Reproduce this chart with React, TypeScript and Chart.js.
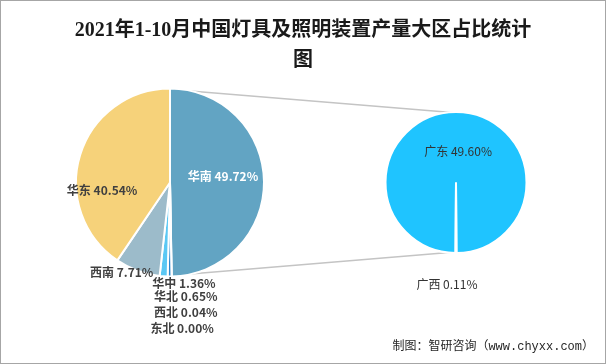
import React, { useEffect, useRef } from "react";
import { Chart, registerables } from "chart.js";

Chart.register(...registerables);

const titleLines = ["2021年1-10月中国灯具及照明装置产量大区占比统计", "图"];
const sourceText = "制图：智研咨询（www.chyxx.com）";

const regions = ["华南", "东北", "西北", "华北", "华中", "西南", "华东"];
const regionShares = [49.72, 0.0, 0.04, 0.65, 1.36, 7.71, 40.54];
const regionColors = ["#62A4C3", "#4AA8E0", "#3A98DA", "#2C86CC", "#5BC8F4", "#9CBBCA", "#F6D27A"];
// label anchor offsets, in units of the pie radius from its centre
const regionLabelPos = [
  [0.57, -0.06],
  [0.13, 1.565],
  [0.17, 1.4],
  [0.17, 1.23],
  [0.15, 1.08],
  [-0.52, 0.97],
  [-0.73, 0.08],
];
const regionLabelColors = ["#FFFFFF", "#404040", "#404040", "#404040", "#404040", "#404040", "#404040"];

const provinces = ["广东", "广西"];
const provinceShares = [49.6, 0.11];
const provinceColors = ["#1FC4FF", "#1FC4FF"];
const provinceLabelPos = [
  [0.03, -0.45],
  [-0.13, 1.47],
];

const W = 606;
const H = 364;

function drawLabels(chart: any, names: string[], values: number[], pos: number[][], colors: string[], font: string) {
  const arc: any = chart.getDatasetMeta(0).data[0];
  if (!arc) return;
  const r = arc.outerRadius - 1;
  const ctx = chart.ctx;
  ctx.save();
  ctx.font = font;
  ctx.textAlign = "center";
  ctx.textBaseline = "middle";
  names.forEach((n, i) => {
    ctx.fillStyle = colors[i];
    ctx.fillText(`${n} ${values[i].toFixed(2)}%`, arc.x + pos[i][0] * r, arc.y + pos[i][1] * r);
  });
  ctx.restore();
}

export default function App() {
  const refA = useRef<HTMLCanvasElement>(null);
  const refB = useRef<HTMLCanvasElement>(null);

  useEffect(() => {
    const chartA = new Chart(refA.current!, {
      type: "pie",
      data: {
        labels: regions,
        datasets: [
          {
            data: regionShares,
            backgroundColor: regionColors,
            borderColor: "#FFFFFF",
            borderWidth: 2,
          },
        ],
      },
      options: {
        responsive: false,
        devicePixelRatio: 1,
        animation: false,
        layout: { padding: { left: 75, right: 341, top: 87.5, bottom: 86.5 } },
        plugins: { legend: { display: false }, tooltip: { enabled: false }, title: { display: false } },
      },
      plugins: [
        {
          id: "labelsA",
          afterDatasetsDraw(chart: any) {
            drawLabels(chart, regions, regionShares, regionLabelPos, regionLabelColors, 'bold 12px "Noto Sans CJK SC"');
          },
        },
      ],
    });

    const chartB = new Chart(refB.current!, {
      type: "pie",
      data: {
        labels: provinces,
        datasets: [
          {
            data: provinceShares,
            backgroundColor: provinceColors,
            borderColor: "#FFFFFF",
            borderWidth: 2,
          },
        ],
      },
      options: {
        responsive: false,
        devicePixelRatio: 1,
        animation: false,
        rotation: 180.4,
        layout: { padding: { left: 384.5, right: 78.5, top: 111, bottom: 110 } },
        plugins: { legend: { display: false }, tooltip: { enabled: false }, title: { display: false } },
      },
      plugins: [
        {
          id: "connectors",
          beforeDatasetsDraw(chart: any) {
            const a: any = chartA.getDatasetMeta(0).data[0];
            const b: any = chart.getDatasetMeta(0).data[0];
            if (!a || !b) return;
            const ra = a.outerRadius - 1;
            const rb = b.outerRadius - 1;
            const ctx = chart.ctx;
            ctx.save();
            ctx.strokeStyle = "#C4C4C4";
            ctx.lineWidth = 1.5;
            ctx.beginPath();
            ctx.moveTo(a.x + 2, a.y - ra);
            ctx.lineTo(b.x + 2, b.y - rb);
            ctx.moveTo(a.x + 2, a.y + ra);
            ctx.lineTo(b.x - 1, b.y + rb);
            ctx.stroke();
            ctx.restore();
          },
          afterDatasetsDraw(chart: any) {
            drawLabels(chart, provinces, provinceShares, provinceLabelPos, ["#333333", "#333333"], '12px "Noto Sans CJK SC"');
          },
        },
      ],
    });

    return () => {
      chartB.destroy();
      chartA.destroy();
    };
  }, []);

  return (
    <div style={{ position: "fixed", left: 0, top: 0, width: W, height: H, background: "#FFFFFF", overflow: "hidden" }}>
      <canvas ref={refB} width={W} height={H} style={{ position: "absolute", left: 0, top: 0 }} />
      <canvas ref={refA} width={W} height={H} style={{ position: "absolute", left: 0, top: 0 }} />
      <div
        style={{
          position: "absolute",
          left: 0,
          top: 14,
          width: W,
          textAlign: "center",
          fontFamily: '"Liberation Serif", "Noto Sans CJK SC", serif',
          fontSize: 20,
          fontWeight: "bold",
          lineHeight: "30px",
          color: "#1A1A1A",
        }}
      >
        {titleLines.map((t, i) => (
          <div key={i}>{t}</div>
        ))}
      </div>
      <div
        style={{
          position: "absolute",
          right: 12,
          top: 338,
          fontFamily: '"Liberation Mono", "Noto Sans CJK SC", monospace',
          fontSize: 12,
          lineHeight: "18px",
          color: "#262626",
          whiteSpace: "nowrap",
        }}
      >
        {sourceText}
      </div>
      <div
        style={{
          position: "absolute",
          left: 0,
          top: 0,
          width: W,
          height: H,
          boxSizing: "border-box",
          border: "1px solid #A6A6A6",
          pointerEvents: "none",
        }}
      />
    </div>
  );
}
